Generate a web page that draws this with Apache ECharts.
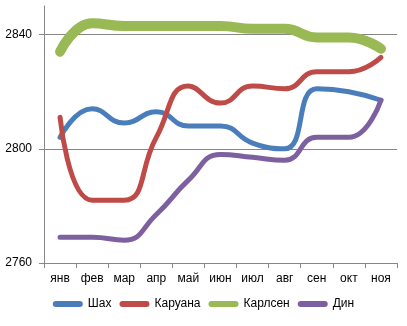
<!DOCTYPE html>
<html>
<head>
<meta charset="utf-8">
<script src="https://cdn.jsdelivr.net/npm/echarts@6/dist/echarts.min.js"></script>
<style>
  html, body { margin: 0; padding: 0; background: #fff; }
  #chart { width: 407px; height: 326px; }
</style>
</head>
<body>
<div id="chart"></div>
<script>
// Monthly ratings of four players
const months = ['янв', 'фев', 'мар', 'апр', 'май', 'июн', 'июл', 'авг', 'сен', 'окт', 'ноя'];
const shakh    = [2804, 2814, 2809, 2813, 2808, 2808, 2802, 2800, 2821, 2820, 2817];
const caruana  = [2811, 2782, 2782, 2804, 2822, 2816, 2822, 2821, 2827, 2827, 2832];
const carlsen  = [2834, 2844, 2843, 2843, 2843, 2843, 2842, 2842, 2839, 2839, 2835];
const ding     = [2769, 2769, 2768, 2777, 2789, 2798, 2797, 2796, 2804, 2804, 2817];
const yTicks   = [2760, 2800, 2840];

const FONT = '"Liberation Sans", Arial, sans-serif';
const AXIS_GREY = '#868686';
const capsule = 'path://M3,0 L27,0 A3,3 0 0 1 27,6 L3,6 A3,3 0 0 1 3,0 Z';

function lineSeries(name, data, color, width) {
  return {
    name: name,
    type: 'line',
    data: data,
    smooth: 0.5,
    symbol: 'none',
    lineStyle: { color: color, width: width, cap: 'round', join: 'round' },
    itemStyle: { color: color },
    emphasis: { disabled: true }
  };
}

const chart = echarts.init(document.getElementById('chart'), null, { renderer: 'canvas' });
chart.setOption({
  animation: false,
  textStyle: { fontFamily: FONT },
  grid: { left: 44, right: 10, top: 6, bottom: 63 },
  legend: {
    bottom: 11,
    left: 'center',
    itemWidth: 30,
    itemHeight: 6,
    itemGap: 8,
    icon: capsule,
    textStyle: { fontFamily: FONT, fontSize: 12, color: '#000' },
    data: ['Шах', 'Каруана', 'Карлсен', 'Дин']
  },
  xAxis: {
    type: 'category',
    data: months,
    boundaryGap: true,
    axisLine: { lineStyle: { color: AXIS_GREY, width: 1 } },
    axisTick: { show: true, length: 5, lineStyle: { color: AXIS_GREY } },
    axisLabel: { color: '#000', fontSize: 12, fontFamily: FONT, margin: 10 }
  },
  yAxis: {
    type: 'value',
    min: 2760,
    max: 2850,
    interval: 40,
    axisLine: { show: true, lineStyle: { color: AXIS_GREY, width: 1 } },
    axisTick: { show: true, length: 5, inside: false, lineStyle: { color: AXIS_GREY }, customValues: yTicks },
    axisLabel: {
      color: '#000', fontSize: 12, fontFamily: FONT, margin: 12,
      customValues: yTicks,
      formatter: function (v) { return String(v); }
    },
    splitLine: { show: true, lineStyle: { color: AXIS_GREY, width: 1 } }
  },
  series: [
    lineSeries('Шах', shakh, '#4A7EBB', 5),
    lineSeries('Каруана', caruana, '#BE4B48', 5),
    lineSeries('Карлсен', carlsen, '#98B954', 10),
    lineSeries('Дин', ding, '#7D60A0', 5)
  ]
});
</script>
</body>
</html>
